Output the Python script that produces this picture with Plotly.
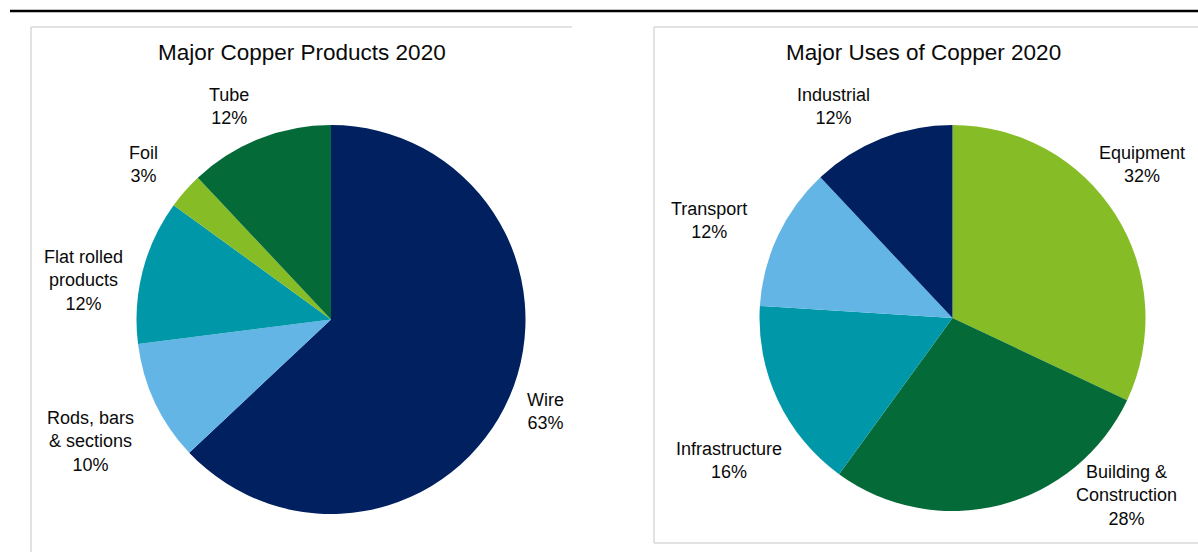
import plotly.graph_objects as go

W, H = 1198, 552

# ---- data -------------------------------------------------------------
product_labels = ["Wire", "Rods, bars<br>& sections", "Flat rolled<br>products", "Foil", "Tube"]
product_shares = [63, 10, 12, 3, 12]

use_labels = ["Equipment", "Building &<br>Construction", "Infrastructure", "Transport", "Industrial"]
use_shares = [32, 28, 16, 12, 12]

# ---- style ------------------------------------------------------------
NAVY = "#012060"
LIGHT_BLUE = "#62B5E5"
TEAL = "#0097A9"
LIME = "#86BC25"
DARK_GREEN = "#046A38"
BORDER = "#D9D9D9"
FONT = "Liberation Sans, Arial, sans-serif"

product_colors = [NAVY, LIGHT_BLUE, TEAL, LIME, DARK_GREEN]
use_colors = [LIME, DARK_GREEN, TEAL, LIGHT_BLUE, NAVY]

# pie geometry in pixels: centre x, centre y, radius
product_pie = (331, 319.5, 194.5)
use_pie = (952.5, 318, 193)

# label centres in pixels
product_label_pos = [(545, 411), (90, 441), (83, 280), (143, 164), (229, 107)]
use_label_pos = [(1142, 164), (1126, 495), (729, 460), (709, 220), (833, 107)]


def px(x):
    return x / W


def py(y):
    return 1 - y / H


def domain(pie):
    cx, cy, r = pie
    return dict(x=[px(cx - r), px(cx + r)], y=[py(cy + r), py(cy - r)])


fig = go.Figure()
for labels, shares, colors, pie in [
    (product_labels, product_shares, product_colors, product_pie),
    (use_labels, use_shares, use_colors, use_pie),
]:
    fig.add_trace(go.Pie(
        labels=labels,
        values=shares,
        sort=False,
        direction="clockwise",
        rotation=0,
        marker=dict(colors=colors, line=dict(width=0)),
        textinfo="none",
        hoverinfo="skip",
        showlegend=False,
        domain=domain(pie),
    ))

annotations = []
for labels, shares, positions in [
    (product_labels, product_shares, product_label_pos),
    (use_labels, use_shares, use_label_pos),
]:
    for lab, val, (x, y) in zip(labels, shares, positions):
        annotations.append(dict(
            x=px(x), y=py(y), xref="paper", yref="paper",
            text=f"{lab}<br>{val}%", showarrow=False,
            xanchor="center", yanchor="middle", align="center",
            font=dict(family=FONT, size=18, color="#0a0a0a"),
        ))

# chart titles
for title, x in [("Major Copper Products 2020", 302), ("Major Uses of Copper 2020", 923)]:
    annotations.append(dict(
        x=px(x), y=py(53), xref="paper", yref="paper", text=title,
        showarrow=False, xanchor="center", yanchor="middle",
        font=dict(family=FONT, size=22.5, color="#0a0a0a"),
    ))


def hline(x0, x1, y, color, width):
    return dict(type="line", xref="paper", yref="paper",
                x0=px(x0), x1=px(x1), y0=py(y), y1=py(y),
                line=dict(color=color, width=width))


def vline(x, y0, y1, color, width):
    return dict(type="line", xref="paper", yref="paper",
                x0=px(x), x1=px(x), y0=py(y0), y1=py(y1),
                line=dict(color=color, width=width))


shapes = [
    hline(10, W, 11, "#000000", 2.5),
    # left panel frame
    hline(31, 572, 27, BORDER, 1.5),
    vline(31, 27, H, BORDER, 1.5),
    # right panel frame
    hline(654, W, 27, BORDER, 1.5),
    vline(654, 27, 543, BORDER, 1.5),
    hline(654, W, 543, BORDER, 1.5),
]

fig.update_layout(
    width=W, height=H,
    margin=dict(l=0, r=0, t=0, b=0),
    paper_bgcolor="white", plot_bgcolor="white",
    annotations=annotations, shapes=shapes,
    showlegend=False,
)

fig.write_html("out.html")
